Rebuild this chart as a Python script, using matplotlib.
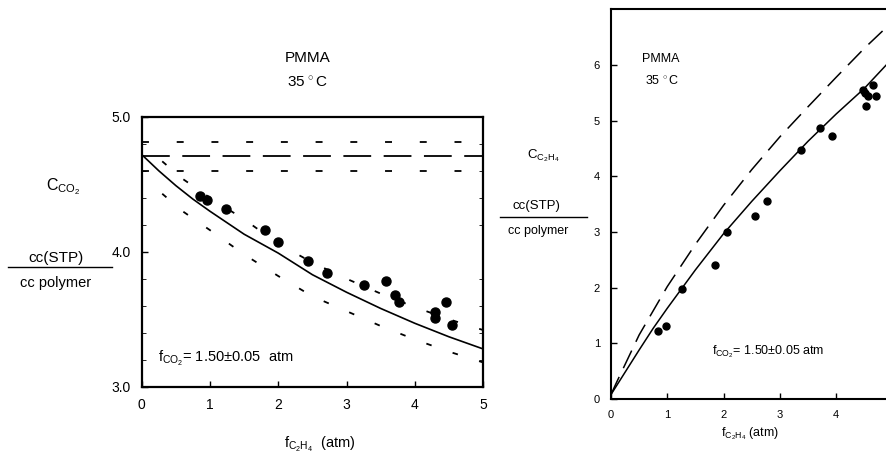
import matplotlib
matplotlib.use("Agg")
from matplotlib import pyplot as plt
from matplotlib.ticker import MultipleLocator

plt.rcParams['font.family'] = ['Liberation Sans', 'DejaVu Sans']
plt.rcParams['mathtext.fontset'] = 'custom'
plt.rcParams['mathtext.rm'] = 'Liberation Sans'
plt.rcParams['mathtext.it'] = 'Liberation Sans'
plt.rcParams['lines.scale_dashes'] = False

# left panel: CO2 sorption vs ethylene fugacity
co2_x = [0.85, 0.95, 1.24, 1.81, 1.99, 2.44, 2.71, 3.25, 3.58, 3.71, 3.77, 4.29, 4.29, 4.46, 4.54]
co2_y = [4.41, 4.38, 4.32, 4.16, 4.07, 3.93, 3.84, 3.75, 3.78, 3.68, 3.63, 3.55, 3.51, 3.63, 3.46]

co2_fit_x = [0, 0.25, 0.5, 0.75, 1.0, 1.5, 2.0, 2.5, 3.0, 3.5, 4.0, 4.5, 5.0]
co2_fit_y = [4.72, 4.60, 4.49, 4.39, 4.30, 4.13, 3.99, 3.83, 3.70, 3.58, 3.47, 3.37, 3.28]

band_x = [0.3, 0.6, 1.0, 1.5, 2.0, 2.5, 3.0, 3.5, 4.0, 4.5, 5.0]
band_hi = [4.67, 4.54, 4.40, 4.24, 4.06, 3.92, 3.80, 3.69, 3.59, 3.50, 3.42]
band_lo = [4.43, 4.30, 4.16, 3.98, 3.82, 3.67, 3.56, 3.45, 3.35, 3.26, 3.18]

pure_co2 = 4.71
pure_co2_hi = 4.81
pure_co2_lo = 4.60

# right panel: C2H4 sorption
c2h4_x = [0.83, 0.97, 1.26, 1.84, 2.06, 2.56, 2.78, 3.37, 3.72, 3.93, 4.47, 4.51, 4.53, 4.57, 4.65, 4.71]
c2h4_y = [1.22, 1.32, 1.97, 2.40, 3.00, 3.29, 3.56, 4.47, 4.87, 4.72, 5.55, 5.50, 5.26, 5.44, 5.64, 5.45]

mix_x = [0, 0.25, 0.5, 0.75, 1.0, 1.5, 2.0, 2.5, 3.0, 3.5, 4.0, 4.5, 5.0]
mix_y = [0.08, 0.48, 0.88, 1.27, 1.63, 2.32, 2.97, 3.55, 4.10, 4.63, 5.12, 5.58, 6.12]

pure_x = [0, 0.1, 0.5, 1.0, 1.5, 2.0, 2.5, 3.0, 3.5, 4.0, 4.5, 5.0]
pure_y = [0.08, 0.30, 1.15, 2.02, 2.78, 3.48, 4.12, 4.71, 5.25, 5.78, 6.30, 6.78]

fig = plt.figure(figsize=(8.87, 4.59), dpi=100)

ax1 = fig.add_axes([0.1598, 0.1575, 0.3848, 0.588])
ax1.plot(co2_fit_x, co2_fit_y, color='black', linewidth=1.2)
ax1.plot(band_x, band_hi, color='black', linewidth=1.3, dashes=(4, 16))
ax1.plot(band_x, band_lo, color='black', linewidth=1.3, dashes=(4, 16))
ax1.axhline(pure_co2, color='black', linewidth=1.3, dashes=(20, 9))
ax1.axhline(pure_co2_hi, color='black', linewidth=1.3, dashes=(5, 20), dash_capstyle='butt')
ax1.axhline(pure_co2_lo, color='black', linewidth=1.3, dashes=(5, 20))
ax1.plot(co2_x, co2_y, 'o', color='black', markersize=6.5)
ax1.set_xlim(0, 5)
ax1.set_ylim(3.0, 5.0)
ax1.set_xticks([0, 1, 2, 3, 4, 5])
ax1.set_yticks([3.0, 4.0, 5.0])
ax1.set_yticklabels(['3.0', '4.0', '5.0'])
ax1.yaxis.set_minor_locator(MultipleLocator(0.2))
ax1.tick_params(direction='in', labelsize=10, length=4, width=1, pad=8)
ax1.tick_params(which='minor', direction='in', length=3, right=True)
for s in ax1.spines.values():
    s.set_linewidth(1.6)
ax1.text(0.24, 3.18, r'$\mathrm{f_{CO_2}}$= 1.50±0.05  atm', fontsize=10.5)
fig.text(0.347, 0.874, 'PMMA', fontsize=11, ha='center', va='center')
fig.text(0.347, 0.819, '35$\\,^\\circ$C', fontsize=11, ha='center', va='center')
fig.text(0.071, 0.585, r'$\mathrm{C_{CO_2}}$', fontsize=11.5, ha='center')
fig.text(0.063, 0.43, 'cc(STP)', fontsize=11, ha='center')
fig.add_artist(plt.Line2D([0.009, 0.126], [0.418, 0.418], color='black', linewidth=1))
fig.text(0.063, 0.375, 'cc polymer', fontsize=10.5, ha='center')
fig.text(0.36, 0.025, r'$\mathrm{f_{C_2H_4}}$  (atm)', fontsize=10.5, ha='center')

ax2 = fig.add_axes([0.6888, 0.1307, 0.3174, 0.849])
ax2.plot(mix_x, mix_y, color='black', linewidth=1.1)
ax2.plot(pure_x, pure_y, color='black', linewidth=1.1, dashes=(14, 7))
ax2.plot(c2h4_x, c2h4_y, 'o', color='black', markersize=5)
ax2.set_xlim(0, 5)
ax2.set_ylim(0, 7)
ax2.set_xticks([0, 1, 2, 3, 4])
ax2.set_yticks([0, 1, 2, 3, 4, 5, 6])
ax2.tick_params(direction='in', labelsize=8, length=4, width=1, pad=8)
for s in ax2.spines.values():
    s.set_linewidth(1.5)
ax2.text(0.55, 6.05, 'PMMA', fontsize=9)
ax2.text(0.6, 5.65, '35$\\,^\\circ$C', fontsize=9)
ax2.text(1.8, 0.8, r'$\mathrm{f_{CO_2}}$= 1.50±0.05 atm', fontsize=9)
fig.text(0.612, 0.655, r'$\mathrm{C_{C_2H_4}}$', fontsize=9.5, ha='center')
fig.text(0.605, 0.545, 'cc(STP)', fontsize=9.5, ha='center')
fig.add_artist(plt.Line2D([0.564, 0.662], [0.527, 0.527], color='black', linewidth=1))
fig.text(0.607, 0.49, 'cc polymer', fontsize=9, ha='center')
fig.text(0.846, 0.05, r'$\mathrm{f_{C_2H_4}}$ (atm)', fontsize=9, ha='center')

fig.savefig('out.png', dpi=100)
